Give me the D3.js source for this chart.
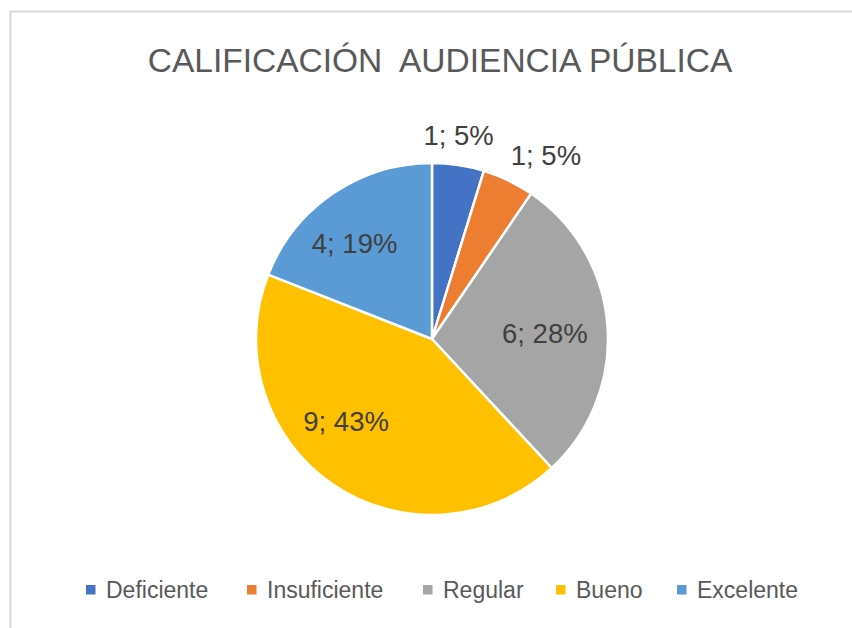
<!DOCTYPE html>
<html>
<head>
<meta charset="utf-8">
<script src="https://cdn.jsdelivr.net/npm/d3@7/dist/d3.min.js"></script>
<style>
  html, body { margin: 0; padding: 0; background: #fff; }
  svg { display: block; }
</style>
</head>
<body>
<svg id="chart" width="852" height="628"></svg>
<script>
const title = "CALIFICACIÓN  AUDIENCIA PÚBLICA";
const categories = ["Deficiente", "Insuficiente", "Regular", "Bueno", "Excelente"];
const values = [1, 1, 6, 9, 4];
const percentLabels = ["5%", "5%", "28%", "43%", "19%"];
const colors = ["#4472C4", "#ED7D31", "#A5A5A5", "#FFC000", "#5B9BD5"];

const svg = d3.select("#chart");
const font = "'Liberation Sans', Arial, sans-serif";

// chart frame (extends beyond the visible area at right and bottom)
svg.append("rect")
  .attr("x", 10.5).attr("y", 11.5)
  .attr("width", 900).attr("height", 700)
  .attr("fill", "#fff")
  .attr("stroke", "#d9d9d9").attr("stroke-width", 2);

// title
svg.append("text")
  .attr("x", 440).attr("y", 72)
  .attr("text-anchor", "middle")
  .attr("font-family", font)
  .attr("font-size", 33.5)
  .attr("fill", "#595959")
  .attr("xml:space", "preserve")
  .style("white-space", "pre")
  .text(title);

const cx = 432, cy = 339, r = 176;
const pie = d3.pie().sort(null).value(d => d)(values);
const arc = d3.arc().innerRadius(0).outerRadius(r);

const g = svg.append("g").attr("transform", `translate(${cx},${cy})`);
g.selectAll("path.slice").data(pie).join("path")
  .attr("class", "slice")
  .attr("d", arc)
  .attr("fill", (d, i) => colors[i])
  .attr("stroke", "#fff")
  .attr("stroke-width", 2.5)
  .attr("stroke-linejoin", "round");

// label placement (layout only): radius factor and pixel nudge, like Excel "best fit"
const labelRadius = [1.165, 1.23, 0.66, 0.675, 0.70];
const labelNudge = [[-4, -1], [20, 11], [-3, 3], [-19, -16], [-8, 6]];
g.selectAll("text.lbl").data(pie).join("text")
  .attr("class", "lbl")
  .attr("transform", (d, i) => {
    const rr = r * labelRadius[i];
    const p = d3.arc().innerRadius(rr).outerRadius(rr).centroid(d);
    return `translate(${p[0] + labelNudge[i][0]},${p[1] + labelNudge[i][1]})`;
  })
  .attr("text-anchor", "middle")
  .attr("dy", "0.36em")
  .attr("font-family", font)
  .attr("font-size", 27.5)
  .attr("fill", "#404040")
  .text((d, i) => `${values[i]}; ${percentLabels[i]}`);

// legend
const legendX = [86, 247, 423, 556, 677];
const ly = 590;
const lg = svg.append("g");
categories.forEach((c, i) => {
  lg.append("rect")
    .attr("x", legendX[i]).attr("y", ly - 5)
    .attr("width", 9.5).attr("height", 9.5)
    .attr("fill", colors[i]);
  lg.append("text")
    .attr("x", legendX[i] + 20).attr("y", 598)
    .attr("font-family", font)
    .attr("font-size", 23)
    .attr("fill", "#595959")
    .text(c);
});
</script>
</body>
</html>
